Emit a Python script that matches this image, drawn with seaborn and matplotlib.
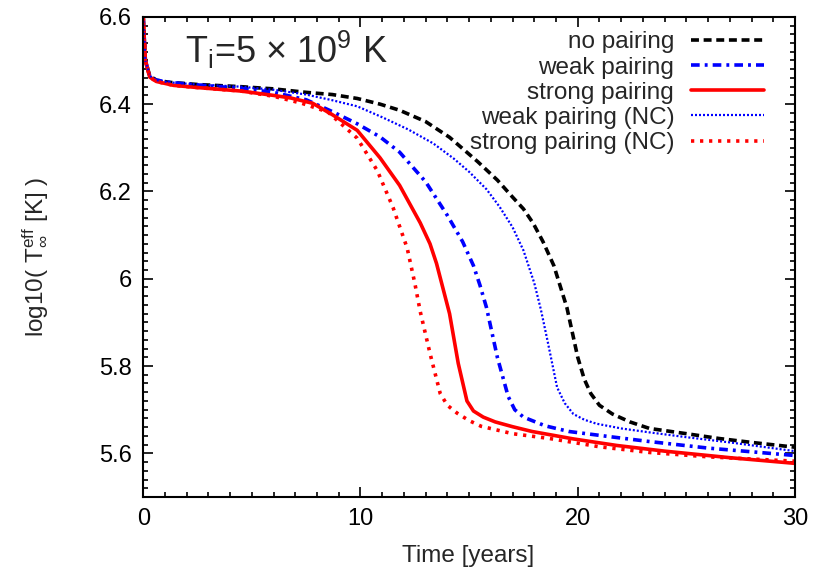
import matplotlib
matplotlib.use("Agg")
import matplotlib.pyplot as plt
import seaborn as sns
import pandas as pd
from matplotlib.ticker import MultipleLocator

sns.set_style("ticks")
plt.rcParams['font.family'] = ['Liberation Sans', 'DejaVu Sans']
plt.rcParams['mathtext.fontset'] = 'custom'
plt.rcParams['mathtext.rm'] = 'Liberation Sans'
plt.rcParams['mathtext.it'] = 'Liberation Sans:italic'
plt.rcParams['mathtext.bf'] = 'Liberation Sans:bold'

# --- data ---
t_none = [0, 0.1, 0.3, 0.6, 1.2, 2.5, 4.5, 6, 7.5, 8.7, 9.85, 10.9, 11.8, 13.0, 14.1, 15.4,
          16.3, 17.0, 17.5, 17.95, 18.4, 18.9, 19.5, 20.0, 20.3, 20.6, 21.0, 21.6, 22.4, 23.3,
          25, 26.5, 28, 30]
y_none = [6.6, 6.5, 6.465, 6.455, 6.45, 6.445, 6.44, 6.435, 6.427, 6.422, 6.413, 6.40, 6.386,
          6.36, 6.324, 6.268, 6.226, 6.187, 6.16, 6.127, 6.085, 6.03, 5.934, 5.82, 5.77,
          5.737, 5.71, 5.69, 5.672, 5.657, 5.645, 5.634, 5.625, 5.614]

t_weak = [0, 0.1, 0.3, 0.6, 1.2, 2.5, 4.5, 6, 7.5, 8.7, 9.85, 10.9, 11.8, 13.0, 14.0, 14.7,
          15.2, 15.5, 15.8, 16.3, 16.8, 17.1, 17.5, 18.0, 18.5, 19.6, 21.5, 23.3, 26, 30]
y_weak = [6.6, 6.5, 6.465, 6.455, 6.45, 6.444, 6.436, 6.427, 6.41, 6.383, 6.355, 6.325, 6.29,
          6.222, 6.145, 6.085, 6.03, 5.985, 5.934, 5.82, 5.73, 5.70, 5.683, 5.673, 5.663,
          5.65, 5.638, 5.627, 5.612, 5.595]

t_strong = [0, 0.1, 0.3, 0.6, 1.4, 2.5, 4.5, 6, 6.8, 7.8, 8.7, 9.85, 10.9, 11.8, 12.75, 13.2,
            13.5, 14.1, 14.5, 14.9, 15.2, 15.65, 16.2, 17.0, 17.9, 19.8, 21.8, 24, 27, 30]
y_strong = [6.6, 6.5, 6.462, 6.452, 6.443, 6.438, 6.43, 6.42, 6.414, 6.402, 6.376, 6.34, 6.277,
            6.214, 6.128, 6.08, 6.035, 5.92, 5.806, 5.72, 5.697, 5.683, 5.672, 5.661, 5.65,
            5.633, 5.618, 5.605, 5.59, 5.577]

t_weak_nc = [0, 0.1, 0.3, 0.6, 1.2, 2.5, 4.5, 6, 7.5, 8.7, 9.85, 11.0, 12.2, 13.35, 14.3, 15.0,
             15.8, 16.4, 17.0, 17.5, 18.0, 18.3, 18.6, 19.05, 19.4, 19.8, 20.3, 20.85, 22,
             23.3, 25, 27, 30]
y_weak_nc = [6.6, 6.5, 6.465, 6.455, 6.45, 6.445, 6.44, 6.433, 6.422, 6.409, 6.395, 6.37,
             6.342, 6.31, 6.275, 6.245, 6.205, 6.165, 6.118, 6.065, 5.99, 5.93, 5.86, 5.751,
             5.715, 5.69, 5.677, 5.668, 5.657, 5.648, 5.637, 5.625, 5.605]

t_strong_nc = [0, 0.1, 0.3, 0.6, 1.4, 2.5, 4.5, 6, 7.3, 8.5, 9.85, 10.77, 11.5, 12.15, 12.5,
               12.75, 13.2, 13.67, 14.0, 14.45, 15.0, 15.55, 17, 18.7, 21, 23.3, 26, 30]
y_strong_nc = [6.6, 6.5, 6.462, 6.452, 6.443, 6.438, 6.43, 6.418, 6.402, 6.382, 6.322, 6.248,
               6.163, 6.07, 5.99, 5.925, 5.829, 5.737, 5.71, 5.692, 5.675, 5.662, 5.645,
               5.634, 5.615, 5.602, 5.592, 5.582]

labels = ["no pairing", "weak pairing", "strong pairing", "weak pairing (NC)", "strong pairing (NC)"]

fig = plt.figure(figsize=(8.23, 5.75), dpi=100)
ax = fig.add_axes([0.174, 0.1357, 0.792, 0.835])

series = [
    (t_none, y_none, labels[0], dict(color="black", lw=2.6, dashes=(2.2, 1.3))),
    (t_weak, y_weak, labels[1], dict(color="#0000ff", lw=2.6, dashes=(2.4, 1.4, 0.8, 1.4))),
    (t_strong, y_strong, labels[2], dict(color="#ff0000", lw=2.6)),
    (t_weak_nc, y_weak_nc, labels[3], dict(color="#0000ff", lw=1.6, dashes=(0.9, 0.9))),
    (t_strong_nc, y_strong_nc, labels[4], dict(color="#ff0000", lw=2.6, dashes=(0.9, 1.6))),
]
for t, y, lab, st in series:
    df = pd.DataFrame({"t": t, "y": y})
    sns.lineplot(data=df, x="t", y="y", ax=ax, label=lab, **st)

ax.set_xlim(0, 30)
ax.set_ylim(5.5, 6.6)
ax.xaxis.set_major_locator(MultipleLocator(10))
ax.xaxis.set_minor_locator(MultipleLocator(1))
ax.yaxis.set_minor_locator(MultipleLocator(0.02))
ax.set_yticks([5.6, 5.8, 6.0, 6.2, 6.4, 6.6])
ax.set_yticklabels(["5.6", "5.8", "6", "6.2", "6.4", "6.6"])
ax.tick_params(which="both", direction="in", top=True, right=True, labelsize=17,
               width=1.2, colors="black")
ax.tick_params(which="major", length=7, pad=8)
ax.tick_params(which="minor", length=3.5)
for s in ax.spines.values():
    s.set_linewidth(1.5)
    s.set_color("black")

ax.set_xlabel("Time [years]", fontsize=17.5)
ax.xaxis.set_label_coords(0.499, -0.1)
ax.set_ylabel(r"log10( T$^{\rm eff}_{\infty}$ [K] )", fontsize=17.5)
ax.yaxis.set_label_coords(-0.145, 0.5)

ax.text(0.064, 0.903, r"T$_{\rm i}$=5 $\times$ 10$^{9}$ K", transform=ax.transAxes,
        fontsize=26, va="baseline", ha="left")

ax.legend(loc="upper right", bbox_to_anchor=(0.975, 1.0), frameon=False, markerfirst=False,
          fontsize=17.5, handlelength=3.0, labelspacing=0.13, handletextpad=0.7,
          borderaxespad=0.2)

fig.savefig("out.png", dpi=100)
